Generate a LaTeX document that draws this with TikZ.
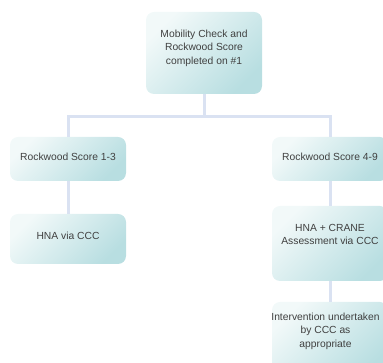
\documentclass[tikz,border=0pt]{standalone}
\usepackage{xcolor}
\usepackage{fontspec}
\setmainfont{Liberation Sans}
\usepackage{tikz}
\usetikzlibrary{calc}
\definecolor{BoxLight}{RGB}{242, 249, 249}
\definecolor{BoxMid}{RGB}{228, 242, 243}
\definecolor{BoxDark}{RGB}{184, 222, 225}
\definecolor{LinkGrey}{RGB}{218, 226, 242}
\definecolor{TextGrey}{RGB}{64, 64, 64}

\tikzset{
        box/.style={rounded corners=8pt, top color=BoxLight, middle color=BoxMid, bottom color=BoxDark, shading angle=45, minimum width=116pt, inner sep=0pt},
        txt/.style={font=\fontsize{10.3}{13.3}\selectfont, text=TextGrey, align=center, anchor=north, inner sep=0pt},
        link/.style={LinkGrey, line width=3pt}
}

\begin{document}
\begin{tikzpicture}[x=1pt, y=1pt]
        \useasboundingbox (0,0) rectangle (383,363);
        \clip (0,0) rectangle (383,363);

        % Top of the chart
        \node[box, minimum width=116pt, minimum height=82pt, label={[txt, yshift=-18pt]north:Mobility Check and\\Rockwood Score\\completed on \#1}] (mob) at (204,310) {};

        % Score boxes
        \node[box, minimum height=44pt, label={[txt, yshift=-16pt]north:Rockwood Score 1-3}] (low) at (68,204) {};
        \node[box, minimum height=44pt, label={[txt, yshift=-16pt]north:Rockwood Score 4-9}] (high) at (330,204) {};

        % Follow-up boxes
        \node[box, minimum height=50pt, label={[txt, yshift=-18pt]north:HNA via CCC}] (hna) at (68,124) {};
        \node[box, minimum height=75pt, label={[txt, yshift=-18pt]north:HNA + CRANE\\Assessment via CCC}] (crane) at (330,119.5) {};
        \node[box, minimum height=75pt, label={[txt, yshift=-11pt, xshift=-4.5pt]north:Intervention undertaken\\by CCC as\\appropriate}] (interv) at (330,23.5) {};

        % Connectors
        \coordinate (bus) at (204,246);
        \draw[link] (mob.south) -- (bus);
        \draw[link] (low.north) |- (bus) -| (high.north);
        \draw[link] (low.south) -- (hna.north);
        \draw[link] (high.south) -- (crane.north);
        \draw[link] (crane.south) -- (interv.north);
\end{tikzpicture}
\end{document}
